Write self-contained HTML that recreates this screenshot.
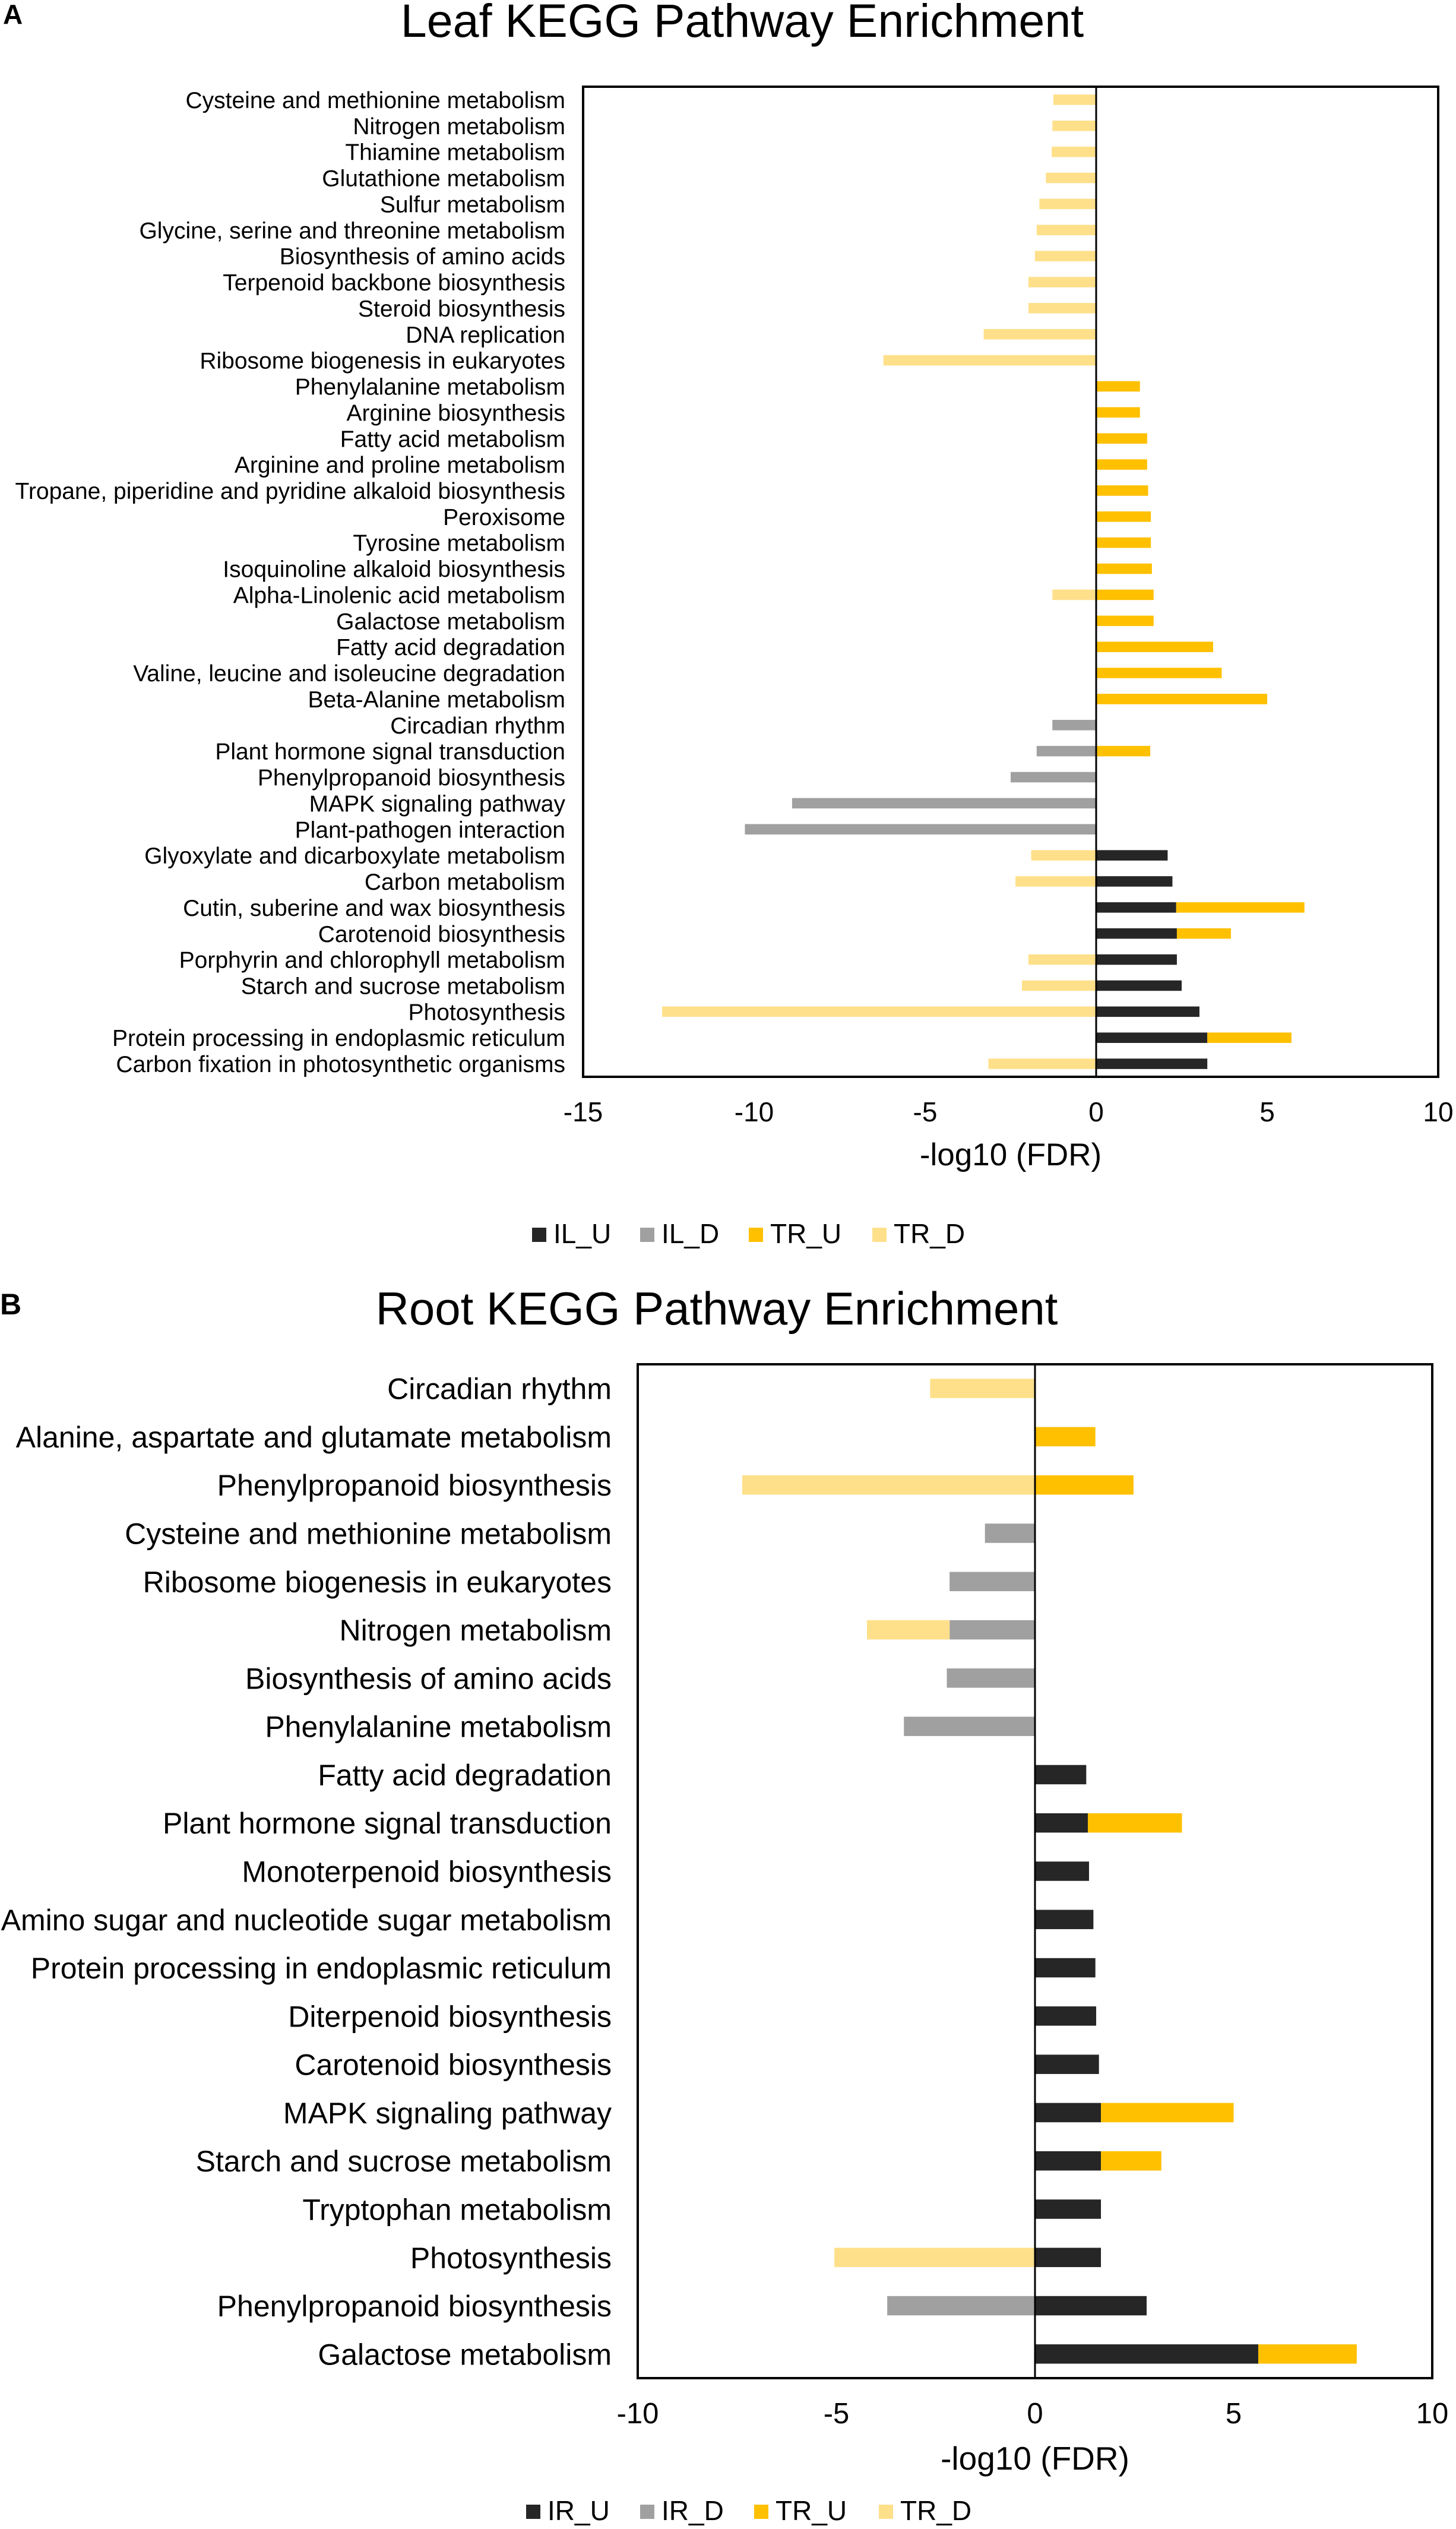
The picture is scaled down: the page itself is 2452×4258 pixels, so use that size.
<!DOCTYPE html>
<html><head><meta charset="utf-8">
<style>
html,body{margin:0;padding:0;background:#fff;}
svg{display:block;font-family:"Liberation Sans",Arial,sans-serif;}
</style></head>
<body>
<svg id="fig" width="2452" height="4258" viewBox="0 0 2452 4258" xmlns="http://www.w3.org/2000/svg">
<rect x="0" y="0" width="2452" height="4258" fill="#fff"/>
<text x="5" y="40" font-size="46" font-weight="bold">A</text>
<text x="1250" y="62" font-size="79" text-anchor="middle">Leaf KEGG Pathway Enrichment</text>
<text x="0" y="2213" font-size="50" font-weight="bold">B</text>
<text x="1207" y="2230" font-size="78" text-anchor="middle">Root KEGG Pathway Enrichment</text>
</svg>
<script>
// ---------- Panel A data (Leaf) ----------
const leafCategories = ["Cysteine and methionine metabolism","Nitrogen metabolism","Thiamine metabolism","Glutathione metabolism","Sulfur metabolism","Glycine, serine and threonine metabolism","Biosynthesis of amino acids","Terpenoid backbone biosynthesis","Steroid biosynthesis","DNA replication","Ribosome biogenesis in eukaryotes","Phenylalanine metabolism","Arginine biosynthesis","Fatty acid metabolism","Arginine and proline metabolism","Tropane, piperidine and pyridine alkaloid biosynthesis","Peroxisome","Tyrosine metabolism","Isoquinoline alkaloid biosynthesis","Alpha-Linolenic acid metabolism","Galactose metabolism","Fatty acid degradation","Valine, leucine and isoleucine degradation","Beta-Alanine metabolism","Circadian rhythm","Plant hormone signal transduction","Phenylpropanoid biosynthesis","MAPK signaling pathway","Plant-pathogen interaction","Glyoxylate and dicarboxylate metabolism","Carbon metabolism","Cutin, suberine and wax biosynthesis","Carotenoid biosynthesis","Porphyrin and chlorophyll metabolism","Starch and sucrose metabolism","Photosynthesis","Protein processing in endoplasmic reticulum","Carbon fixation in photosynthetic organisms"];
const leafIL_U = [0,0,0,0,0,0,0,0,0,0,0,0,0,0,0,0,0,0,0,0,0,0,0,0,0,0,0,0,0,2.09,2.23,2.34,2.36,2.36,2.5,3.02,3.25,3.25];
const leafIL_D = [0,0,0,0,0,0,0,0,0,0,0,0,0,0,0,0,0,0,0,0,0,0,0,0,-1.28,-1.74,-2.5,-8.89,-10.27,0,0,0,0,0,0,0,0,0];
const leafTR_U = [0,0,0,0,0,0,0,0,0,0,0,1.28,1.28,1.49,1.49,1.52,1.6,1.6,1.63,1.68,1.68,3.42,3.67,5.0,0,1.58,0,0,0,0,0,3.75,1.58,0,0,0,2.46,0];
const leafTR_D = [-1.25,-1.28,-1.3,-1.47,-1.66,-1.74,-1.79,-1.98,-1.98,-3.29,-6.22,0,0,0,0,0,0,0,0,-1.28,0,0,0,0,0,0,0,0,0,-1.9,-2.36,0,0,-1.98,-2.17,-12.69,0,-3.15];
const leafTicks = [-15,-10,-5,0,5,10];
const leafLegend = ["IL_U","IL_D","TR_U","TR_D"];

// ---------- Panel B data (Root) ----------
const rootCategories = ["Circadian rhythm","Alanine, aspartate and glutamate metabolism","Phenylpropanoid biosynthesis","Cysteine and methionine metabolism","Ribosome biogenesis in eukaryotes","Nitrogen metabolism","Biosynthesis of amino acids","Phenylalanine metabolism","Fatty acid degradation","Plant hormone signal transduction","Monoterpenoid biosynthesis","Amino sugar and nucleotide sugar metabolism","Protein processing in endoplasmic reticulum","Diterpenoid biosynthesis","Carotenoid biosynthesis","MAPK signaling pathway","Starch and sucrose metabolism","Tryptophan metabolism","Photosynthesis","Phenylpropanoid biosynthesis","Galactose metabolism"];
const rootIR_U = [0,0,0,0,0,0,0,0,1.29,1.33,1.36,1.47,1.52,1.54,1.61,1.66,1.66,1.66,1.66,2.81,5.62];
const rootIR_D = [0,0,0,-1.26,-2.15,-2.15,-2.22,-3.3,0,0,0,0,0,0,0,0,0,0,0,-3.72,0];
const rootTR_U = [0,1.52,2.48,0,0,0,0,0,0,2.37,0,0,0,0,0,3.34,1.52,0,0,0,2.48];
const rootTR_D = [-2.64,0,-7.37,0,0,-2.08,0,0,0,0,0,0,0,0,0,0,0,0,-5.05,0,0];
const rootTicks = [-10,-5,0,5,10];
const rootLegend = ["IR_U","IR_D","TR_U","TR_D"];

const seriesColors = ["#262626","#a0a0a0","#ffc000","#ffe08a"];
const NS = "http://www.w3.org/2000/svg";
const svg = document.getElementById("fig");

function mk(tag, attrs, parent) {
  const e = document.createElementNS(NS, tag);
  for (const k in attrs) e.setAttribute(k, attrs[k]);
  (parent || svg).appendChild(e);
  return e;
}

function drawChart(cfg) {
  const g = mk("g", {});
  
  
  const xMin = cfg.ticks[0], xMax = cfg.ticks[cfg.ticks.length - 1];
  const xScale = v => cfg.left + (v - xMin) / (xMax - xMin) * (cfg.right - cfg.left);
  const n = cfg.categories.length;
  const band = (cfg.bottom - cfg.top) / n;
  const yScale = i => cfg.top + (i + 0.5) * band;
  const barH = band * cfg.barFrac;

  // category labels
  cfg.categories.forEach((c, i) => {
    const t = mk("text", {x: cfg.labelX, y: yScale(i) + cfg.labelSize * 0.36, "font-size": cfg.labelSize, "text-anchor": "end", fill: "#000"}, g);
    t.textContent = c;
    
    
  });

  // bars (stacked: positives and negatives accumulate separately)
  for (let i = 0; i < n; i++) {
    let pos = 0, neg = 0;
    cfg.series.forEach((arr, s) => {
      const v = arr[i];
      if (!v) return;
      let a, b;
      if (v > 0) { a = pos; b = pos + v; pos = b; } else { a = neg; b = neg + v; neg = b; }
      const x1 = xScale(Math.min(a, b)), x2 = xScale(Math.max(a, b));
      const r = mk("rect", {x: x1, y: yScale(i) - barH / 2, width: x2 - x1, height: barH, fill: seriesColors[s]}, g);
      
      
    });
  }

  // zero line
  const z = mk("line", {x1: xScale(0), x2: xScale(0), y1: cfg.top, y2: cfg.bottom, stroke: "#000", "stroke-width": cfg.zeroW}, g);
  
  

  // frame
  const f = mk("rect", {x: cfg.left, y: cfg.top, width: cfg.right - cfg.left, height: cfg.bottom - cfg.top, fill: "none", stroke: "#000", "stroke-width": cfg.frameW}, g);
  
  

  // ticks
  cfg.ticks.forEach(tv => {
    const t = mk("text", {x: xScale(tv), y: cfg.tickY, "font-size": cfg.tickSize, "text-anchor": "middle", fill: "#000"}, g);
    t.textContent = String(tv);
    
    
  });

  // axis title
  const at = mk("text", {x: (cfg.left + cfg.right) / 2, y: cfg.titleY, "font-size": cfg.titleSize, "text-anchor": "middle", fill: "#000"}, g);
  at.textContent = "-log10 (FDR)";
  
  

  // legend
  cfg.legend.forEach((name, s) => {
    const sq = mk("rect", {x: cfg.legendSqX[s], y: cfg.legendY - 26, width: 24, height: 24, fill: seriesColors[s]}, g);
    
    
    const t = mk("text", {x: cfg.legendSqX[s] + 36, y: cfg.legendY, "font-size": 46, fill: "#000"}, g);
    t.textContent = name;
    
    
  });
}

drawChart({
  name: "leaf-chart", categories: leafCategories,
  series: [leafIL_U, leafIL_D, leafTR_U, leafTR_D], legend: leafLegend, ticks: leafTicks,
  left: 982, right: 2422, top: 146, bottom: 1813, barFrac: 0.4,
  labelX: 952, labelSize: 39, tickY: 1888, tickSize: 46, titleY: 1962, titleSize: 53,
  legendY: 2093, legendSqX: [896, 1078, 1261, 1469], zeroW: 3, frameW: 4
});

drawChart({
  name: "root-chart", categories: rootCategories,
  series: [rootIR_U, rootIR_D, rootTR_U, rootTR_D], legend: rootLegend, ticks: rootTicks,
  left: 1074, right: 2412, top: 2297, bottom: 4004, barFrac: 0.4,
  labelX: 1030, labelSize: 50, tickY: 4080, tickSize: 49, titleY: 4158, titleSize: 55,
  legendY: 4243, legendSqX: [886, 1078, 1270, 1480], zeroW: 3, frameW: 4
});
</script>
</body></html>
